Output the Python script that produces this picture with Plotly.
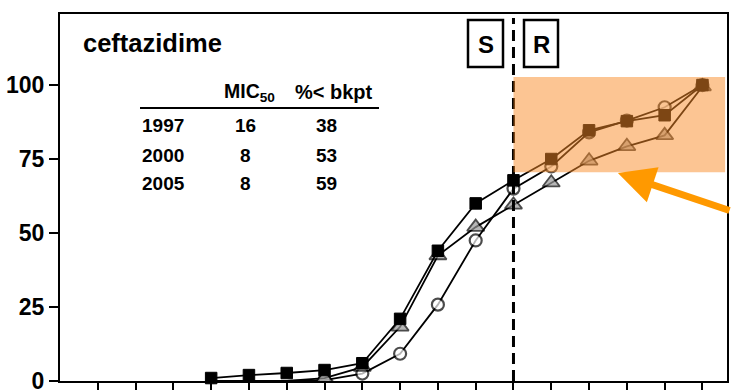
import plotly.graph_objects as go

# ---- data ----
x_idx = list(range(4, 18))
y_1997_sq = [1, 2, 2.7, 3.7, 6, 21, 44, 60, 67.8, 75, 84.7, 87.8, 89.8, 100]
y_2000_ci = [0, 0, 0, 0.3, 2.5, 9.2, 25.8, 47.5, 65, 72.5, 84, 88, 92.5, 100]
y_2005_tr = [0, 0, 0, 1, 4.7, 18.3, 42.4, 52, 59.5, 67, 74.4, 79.3, 83, 99.5]
y_tick_vals = [0, 25, 50, 75, 100]
x_tick_vals = list(range(1, 18))
title_text = "ceftazidime"
table_header = ["MIC<sub>50</sub>", "%< bkpt"]
table_years = ["1997", "2000", "2005"]
table_mic50 = ["16", "8", "8"]
table_pct = ["38", "53", "59"]
breakpoint_idx = 12
highlight = dict(x0=12, x1=17.6, y0=70.5, y1=102.7)

W, H = 731, 390
L, R, T, B = 60, 727, 14, 381
XMAX = 17.65
YMAX = 124

def px(x):
    return (x - L) / (R - L)

def py(y):
    return (B - y) / (B - T)

FONT = "Liberation Sans, Arial, sans-serif"

def sizes(vals, s):
    # hide markers that sit on the baseline (as in the original)
    return [0 if v == 0 else s for v in vals]

fig = go.Figure()
line = dict(color="black", width=1.8)
fig.add_trace(go.Scatter(x=x_idx, y=y_2000_ci, mode="lines+markers", line=line,
                         marker=dict(symbol="circle", size=sizes(y_2000_ci, 12), color="white",
                                     line=dict(color="black", width=2.2)), cliponaxis=True))
fig.add_trace(go.Scatter(x=x_idx, y=y_2005_tr, mode="lines+markers", line=line,
                         marker=dict(symbol="triangle-up", size=sizes(y_2005_tr, 15), color="#999999",
                                     line=dict(color="black", width=1.8)), cliponaxis=True))
fig.add_trace(go.Scatter(x=x_idx, y=y_1997_sq, mode="lines+markers", line=line,
                         marker=dict(symbol="square", size=11.5, color="black",
                                     line=dict(color="black", width=1)), cliponaxis=False))

shapes = []
# breakpoint dashed line
shapes.append(dict(type="line", xref="x", yref="paper", x0=breakpoint_idx, x1=breakpoint_idx,
                   y0=0, y1=py(18), line=dict(color="black", width=3, dash="11px,6px"),
                   layer="above"))
# highlight rect
shapes.append(dict(type="rect", xref="x", yref="y", **highlight,
                   fillcolor="rgb(250,140,40)", opacity=0.5, line=dict(width=0), layer="above"))
# header underline
shapes.append(dict(type="line", xref="paper", yref="paper", x0=px(140), x1=px(379),
                   y0=py(108), y1=py(108), line=dict(color="black", width=2)))
# S / R boxes
for (x0, x1) in [(468, 503), (524, 558)]:
    shapes.append(dict(type="rect", xref="paper", yref="paper", x0=px(x0), x1=px(x1),
                       y0=py(20), y1=py(67), line=dict(color="black", width=2.5),
                       fillcolor="white"))
fig.update_layout(shapes=shapes)

ann = []
def text(s, x, y, size, xanchor="center"):
    ann.append(dict(text="<b>%s</b>" % s, xref="paper", yref="paper", x=px(x), y=py(y),
                    xanchor=xanchor, yanchor="middle", showarrow=False,
                    font=dict(family=FONT, size=size, color="black")))

text(title_text, 81, 43, 25.5, "left")
text(table_header[0], 249, 92, 19.5)
text(table_header[1], 334, 92, 20)
for i, yy in enumerate([125, 155, 184]):
    text(table_years[i], 140, yy, 19, "left")
    text(table_mic50[i], 245, yy, 19)
    text(table_pct[i], 326, yy, 19)
text("S", 485.5, 44, 24)
text("R", 541, 44, 24)

# arrow
ann.append(dict(x=(618 - L) / 37.8, y=(B - 173) / 2.96, xref="x", yref="y",
                ax=130, ay=38, axref="pixel", ayref="pixel", text="", showarrow=True,
                arrowhead=2, arrowsize=1.05, arrowwidth=7, arrowcolor="#FF9900", standoff=0))
fig.update_layout(annotations=ann)

fig.update_layout(
    width=W, height=H, margin=dict(l=L, r=W - R, t=T, b=H - B, autoexpand=False),
    plot_bgcolor="white", paper_bgcolor="white", showlegend=False,
    xaxis=dict(range=[0, XMAX], tickvals=x_tick_vals, ticks="outside", ticklen=8,
               tickwidth=1.5, tickcolor="black", showticklabels=False, showgrid=False,
               automargin=False,
               zeroline=False, showline=True, linecolor="black", linewidth=2, mirror=True),
    yaxis=dict(range=[0, YMAX], tickvals=y_tick_vals, ticktext=["<b>%d</b>" % v for v in y_tick_vals],
               ticks="outside", ticklen=9, tickwidth=1.5, tickcolor="black",
               ticklabeloverflow="allow", automargin=False,
               tickfont=dict(family=FONT, size=23, color="black"), showgrid=False,
               zeroline=False, showline=True, linecolor="black", linewidth=2, mirror=True),
)
fig.write_html("out.html")
